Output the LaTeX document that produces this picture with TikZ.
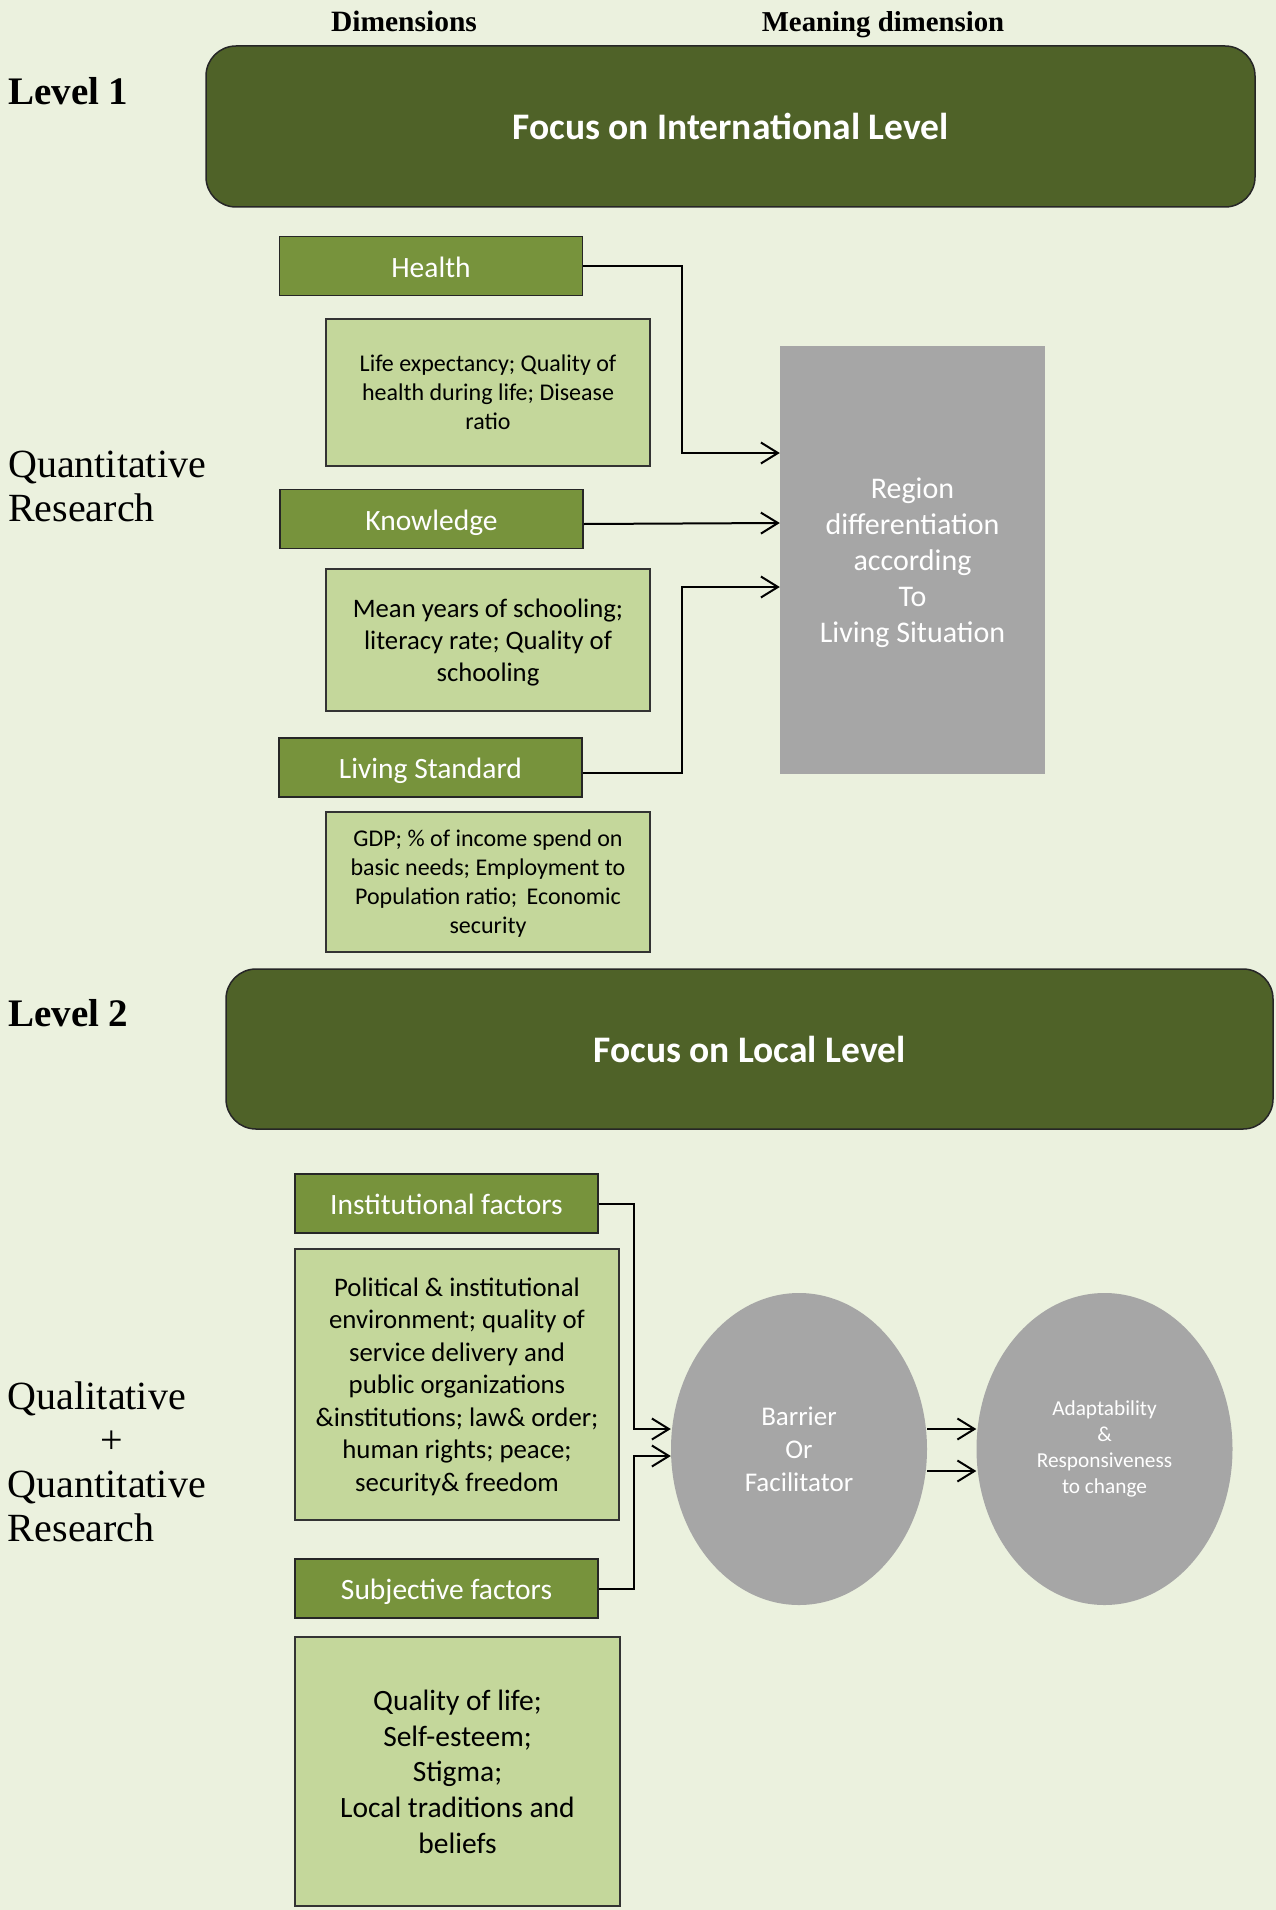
\documentclass[tikz,border=0pt]{standalone}
\usepackage{fontspec}
\setmainfont{Carlito}
\newfontfamily\labelserif{Liberation Serif}
\usetikzlibrary{shapes.geometric,arrows.meta}
\definecolor{pagebg}{HTML}{EBF1DE}
\definecolor{darkolive}{HTML}{4F6228}
\definecolor{midolive}{HTML}{77933C}
\definecolor{lightolive}{HTML}{C4D79B}
\definecolor{greybox}{HTML}{A6A6A6}
\begin{document}
\begin{tikzpicture}[x=1pt,y=-1pt,
  levelbox/.style={draw=black!85,line width=1.5pt,fill=darkolive,rounded corners=30pt,
    text=white,font=\fontsize{37.5}{42}\selectfont\bfseries,inner sep=0pt},
  dimbox/.style={draw=black!85,line width=1.5pt,fill=midolive,text=white,
    font=\fontsize{29.5}{33}\selectfont,inner sep=0pt,minimum width=303pt,minimum height=59pt,
    text height=22.5pt,text depth=0pt},
  detailbox/.style={draw=black!80,line width=1.5pt,fill=lightolive,text=black,
    align=center,inner sep=0pt,minimum width=324pt,text depth=0pt},
  greyrect/.style={fill=greybox,inner sep=0pt},
  greytext/.style={text=white,align=center,inner sep=0pt},
  greyoval/.style={ellipse,fill=greybox,text=white,align=center,inner sep=0pt,
    minimum width=256pt,minimum height=312pt},
  sidelabel/.style={font=\labelserif\fontsize{40}{44}\selectfont,align=left,anchor=west,inner sep=0pt},
  levellabel/.style={font=\labelserif\fontsize{39}{44}\selectfont\bfseries,anchor=west,inner sep=0pt},
  headlabel/.style={font=\labelserif\bfseries,inner sep=0pt,anchor=base},
  arr/.style={draw=black,line width=2pt,-{Straight Barb[length=17pt,width=21pt,line width=2pt]}}
]
% page
\fill[pagebg] (0,0) rectangle (1276,1910);
\useasboundingbox (0,0) rectangle (1276,1910);

% column headings
\node[headlabel,font=\labelserif\bfseries\fontsize{29.5}{32}\selectfont] (hdim) at (404,31.5) {Dimensions};
\node[headlabel,font=\labelserif\bfseries\fontsize{28.8}{32}\selectfont] (hmean) at (883,31.5) {Meaning dimension};

% ---------- level 1 ----------
\node[levellabel] (lev1) at (8,91) {Level 1};
\node[levelbox,minimum width=1049pt,minimum height=161pt] (intl) at (730.5,126.5) {Focus on International Level};
\node[sidelabel] (quant1) at (8,486) {Quantitative\\Research};

\node[dimbox] (health) at (431,266) {Health};
\node[detailbox,minimum height=147pt,font=\fontsize{24}{29}\selectfont] (healthd) at (488,392.5)
  {Life expectancy; Quality of\\health during life; Disease\\ratio};
\node[dimbox] (know) at (431.5,519) {Knowledge};
\node[detailbox,minimum height=142pt,font=\fontsize{26.7}{32}\selectfont] (knowd) at (488,640)
  {Mean years of schooling;\\literacy rate; Quality of\\schooling};
\node[dimbox] (living) at (430.5,767.5) {Living Standard};
\node[detailbox,minimum height=140pt,font=\fontsize{24}{29}\selectfont] (livingd) at (488,882)
  {GDP; \% of income spend on\\basic needs; Employment to\\Population ratio;\, Economic\\security};

\node[greyrect,minimum width=265pt,minimum height=428pt] (region) at (912.5,560) {};
\node[greytext,font=\fontsize{30}{36}\selectfont] (regiontext) at (912.5,563)
  {Region\\differentiation\\according\\To\\Living Situation};

\draw[arr] (health.east) -- (682,0 |- health.east) |- (region.west |- 0,453);
\draw[arr] ([yshift=-5pt]know.east) -- (region.west |- 0,523);
\draw[arr] ([yshift=-5pt]living.east) -- (682,0 |- 0,772.5) |- (region.west |- 0,587);

% ---------- level 2 ----------
\node[levellabel] (lev2) at (8,1013) {Level 2};
\node[levelbox,minimum width=1047pt,minimum height=160pt] (local) at (749.5,1049) {Focus on Local Level};
\node[font=\labelserif\fontsize{40}{44}\selectfont,align=center,inner sep=0pt] (qual2) at (112,1462)
  {\hbox to 208pt{Qualitative\hfil}\\+\\\hbox to 208pt{Quantitative\hfil}\\\hbox to 208pt{Research\hfil}};

\node[dimbox] (inst) at (446.5,1203.5) {Institutional factors};
\node[detailbox,minimum height=271pt,font=\fontsize{26.8}{32.5}\selectfont] (instd) at (457,1384.5)
  {Political \& institutional\\environment; quality of\\service delivery and\\public organizations\\\&institutions; law\& order;\\human rights; peace;\\security\& freedom};
\node[dimbox] (subj) at (446.5,1588.5) {Subjective factors};
\node[detailbox,minimum width=325pt,minimum height=269pt,font=\fontsize{29.5}{35.7}\selectfont] (subjd) at (457.5,1771.5)
  {Quality of life;\\Self-esteem;\\Stigma;\\Local traditions and\\beliefs};

\node[greyoval,font=\fontsize{27}{33}\selectfont] (barrier) at (799,1449) {Barrier\\Or\\Facilitator};
\node[greyoval,font=\fontsize{21.3}{26}\selectfont] (adapt) at (1104.5,1449)
  {Adaptability\\\&\\Responsiveness\\to change};

\draw[arr] (inst.east) -- (634,0 |- inst.east) |- (barrier.west |- 0,1429);
\draw[arr] (subj.east) -- (634,0 |- subj.east) |- (barrier.west |- 0,1456);
\draw[arr] (barrier.east |- 0,1429) -- (adapt.west |- 0,1429);
\draw[arr] (barrier.east |- 0,1471) -- (adapt.west |- 0,1471);
\end{tikzpicture}
\end{document}
